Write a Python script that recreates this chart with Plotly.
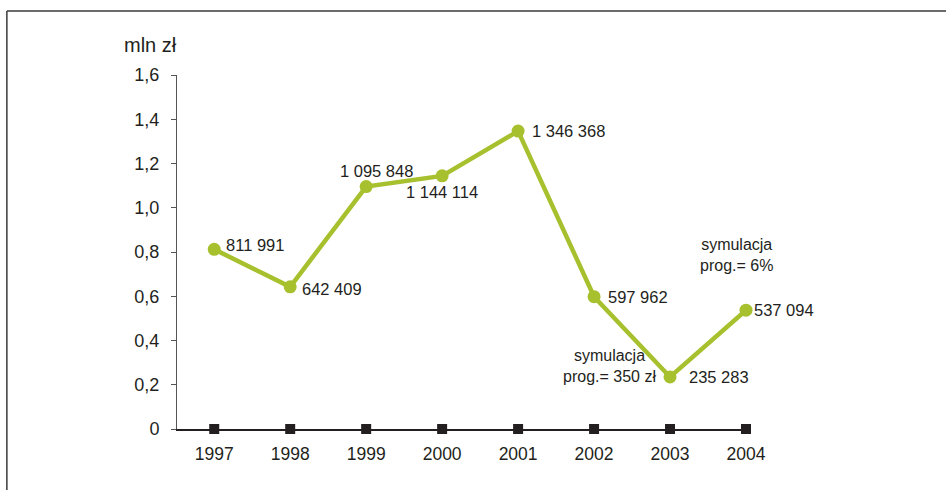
import plotly.graph_objects as go

years = ["1997", "1998", "1999", "2000", "2001", "2002", "2003", "2004"]
values_zl = [811991, 642409, 1095848, 1144114, 1346368, 597962, 235283, 537094]
y_ticks = [0, 0.2, 0.4, 0.6, 0.8, 1.0, 1.2, 1.4, 1.6]
y_tick_labels = ["0", "0,2", "0,4", "0,6", "0,8", "1,0", "1,2", "1,4", "1,6"]
notes = ["symulacja<br>prog.= 350 zł", "symulacja<br>prog.= 6%"]

values_mln = [v / 1e6 for v in values_zl]
xi = list(range(len(years)))

def fmt(v):
    return f"{v:,}".replace(",", " ")

GREEN = "#a7c02e"
DARK = "#231f20"
FONT = "Liberation Sans, Arial, sans-serif"

fig = go.Figure()
fig.add_trace(go.Scatter(x=xi, y=[0] * len(xi), mode="markers",
                         marker=dict(symbol="square", size=10, color=DARK),
                         cliponaxis=False, showlegend=False, hoverinfo="skip"))
fig.add_trace(go.Scatter(x=xi, y=values_mln, mode="lines+markers",
                         line=dict(color=GREEN, width=4.5),
                         marker=dict(size=13, color=GREEN),
                         cliponaxis=False, showlegend=False))

# label placement styles (anchor, xshift, yshift)
placements = [("left", 10, 4), ("left", 10, -2), ("center", 10, 16), ("center", 0, -16),
              ("left", 12, 0), ("left", 12, 0), ("left", 17, 0), ("left", 6, 0)]
annotations = []
for i, v in enumerate(values_zl):
    anc, xs, ys = placements[i]
    annotations.append(dict(x=xi[i], y=values_mln[i], text=fmt(v), showarrow=False,
                            xanchor=anc, yanchor="middle", xshift=xs, yshift=ys,
                            font=dict(size=16.5, color=DARK, family=FONT)))
annotations.append(dict(x=5.2, y=0.285, text=notes[0], showarrow=False,
                        xanchor="center", yanchor="middle",
                        font=dict(size=16, color=DARK, family=FONT)))
annotations.append(dict(x=6.88, y=0.786, text=notes[1], showarrow=False,
                        xanchor="center", yanchor="middle",
                        font=dict(size=16, color=DARK, family=FONT)))
annotations.append(dict(x=-0.047, y=1.085, xref="paper", yref="paper", text="mln zł",
                        showarrow=False, xanchor="center", yanchor="middle",
                        font=dict(size=20, color=DARK, family=FONT)))

shapes = [
    dict(type="line", xref="paper", yref="paper", x0=-0.299, x1=1.36, y0=1.181, y1=1.181,
         line=dict(color="#3a3a3a", width=1.5)),
    dict(type="line", xref="paper", yref="paper", x0=-0.299, x1=-0.299, y0=1.181, y1=-0.2,
         line=dict(color="#3a3a3a", width=1.5)),
]

fig.update_layout(
    width=946, height=490,
    margin=dict(l=177, r=200, t=75, b=61),
    paper_bgcolor="white", plot_bgcolor="white",
    font=dict(family=FONT, size=17.5, color=DARK),
    annotations=annotations, shapes=shapes,
    xaxis=dict(range=[-0.49, 7.0], tickmode="array", tickvals=xi, ticktext=years,
               showgrid=False, zeroline=False, showline=True, linecolor=DARK, linewidth=1.5,
               ticks="", ticklabelstandoff=8,
               tickfont=dict(size=17.5, family=FONT, color=DARK)),
    yaxis=dict(range=[0, 1.6], tickmode="array", tickvals=y_ticks, ticktext=y_tick_labels,
               showgrid=False, zeroline=False, showline=True, linecolor="#555555", linewidth=1,
               ticks="outside", ticklen=5, tickcolor="#555555", ticklabelstandoff=8,
               tickfont=dict(size=18, family=FONT, color=DARK)),
)
fig.write_html("out.html")
